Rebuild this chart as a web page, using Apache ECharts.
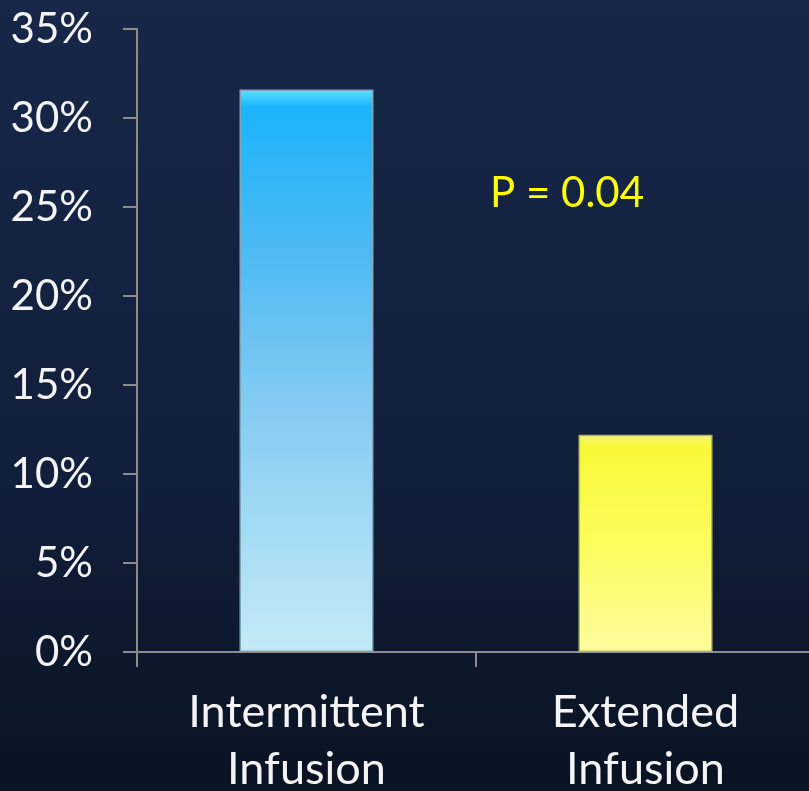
<!DOCTYPE html>
<html>
<head>
<meta charset="utf-8">
<script src="https://cdn.jsdelivr.net/npm/echarts@6/dist/echarts.min.js"></script>
<style>
  html, body { margin: 0; padding: 0; }
  #chart { width: 809px; height: 791px; }
</style>
</head>
<body>
<div id="chart"></div>
<script>
// Categories and values (percent)
const categories = ['Intermittent\nInfusion', 'Extended\nInfusion'];
const values = [31.6, 12.2];
const yTicks = [0, 5, 10, 15, 20, 25, 30, 35];
const pValueText = 'P = 0.04';

const fontFamily = 'Lato, "Open Sans", sans-serif';

// Per-bar vertical gradients: bright at the top, fading lighter toward the base
const barFills = [
  new echarts.graphic.LinearGradient(0, 0, 0, 1, [
    { offset: 0, color: '#5fe3ff' },
    { offset: 0.03, color: '#1cb4fb' },
    { offset: 0.25, color: '#45b8f4' },
    { offset: 0.55, color: '#82caf1' },
    { offset: 1, color: '#c4eaf7' }
  ]),
  new echarts.graphic.LinearGradient(0, 0, 0, 1, [
    { offset: 0, color: '#f4f47e' },
    { offset: 0.05, color: '#f8f836' },
    { offset: 0.5, color: '#fcfc5e' },
    { offset: 1, color: '#fdfb9c' }
  ])
];

const chart = echarts.init(document.getElementById('chart'), null, { renderer: 'canvas' });

chart.setOption({
  backgroundColor: new echarts.graphic.LinearGradient(0, 0, 0, 1, [
    { offset: 0, color: '#162748' },
    { offset: 0.6, color: '#121f3c' },
    { offset: 1, color: '#0a1322' }
  ]),
  animation: false,
  grid: {
    left: 137, right: -6, top: 29, bottom: 139,
    containLabel: false,
    outerBoundsMode: 'none'
  },
  xAxis: {
    type: 'category',
    data: categories,
    axisLine: { show: true, lineStyle: { color: '#8c8c8c', width: 2 } },
    axisTick: { show: true, length: 15, lineStyle: { color: '#8c8c8c', width: 2 } },
    axisLabel: {
      color: '#f4f4f4',
      fontSize: 45,
      fontFamily: fontFamily,
      lineHeight: 57,
      margin: 32
    }
  },
  yAxis: {
    type: 'value',
    min: yTicks[0],
    max: yTicks[yTicks.length - 1],
    interval: yTicks[1] - yTicks[0],
    splitLine: { show: false },
    axisLine: { show: true, lineStyle: { color: '#8c8c8c', width: 2 } },
    axisTick: { show: true, length: 14, lineStyle: { color: '#8c8c8c', width: 2 } },
    axisLabel: {
      color: '#f4f4f4',
      fontSize: 42,
      fontFamily: fontFamily,
      margin: 44,
      formatter: v => v + '%'
    }
  },
  graphic: [{
    type: 'text',
    left: 490,
    top: 172,
    style: {
      text: pValueText,
      fill: '#ffff00',
      fontSize: 42,
      fontFamily: fontFamily
    }
  }],
  series: [{
    type: 'bar',
    barWidth: 134,
    data: values.map((v, i) => ({
      value: v,
      itemStyle: {
        color: barFills[i],
        borderColor: i === 0 ? '#7fa6b8' : '#b8b86a',
        borderWidth: 1.5
      }
    }))
  }]
});
</script>
</body>
</html>
